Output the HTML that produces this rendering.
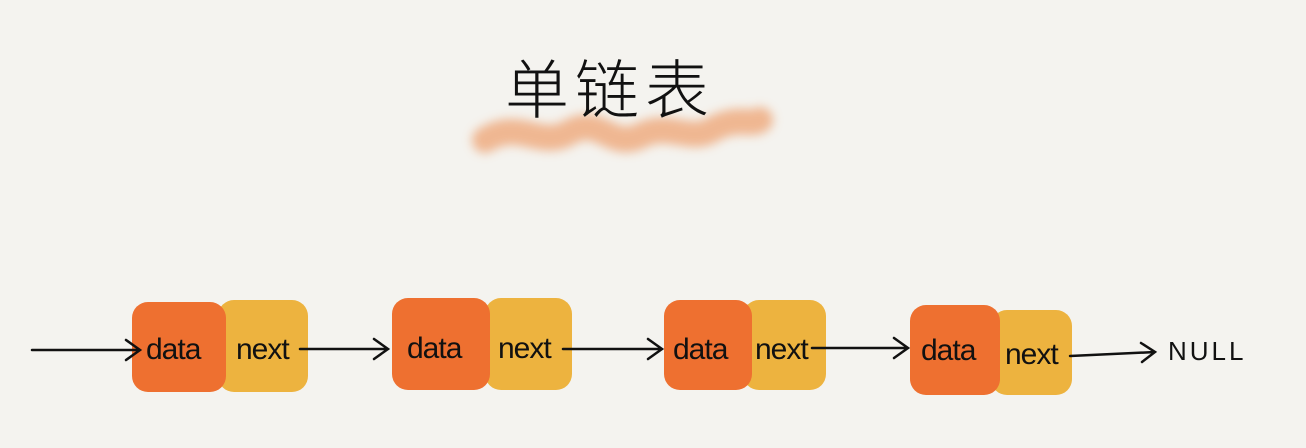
<!DOCTYPE html>
<html><head><meta charset="utf-8"><style>
body{margin:0;width:1306px;height:448px;background:#f4f3ef;overflow:hidden;position:relative;font-family:"Liberation Sans","Noto Sans CJK SC",sans-serif}
.b{position:absolute;border-radius:16px}
.o{background:#ee7030}.y{background:#edb33f}
.t{position:absolute;font-size:30px;color:#111;font-family:"Liberation Sans",sans-serif;letter-spacing:-1px}
</style></head><body>
<svg width="1306" height="448" style="position:absolute;left:0;top:0">
<defs><filter id="bl" x="-20%" y="-200%" width="140%" height="500%"><feGaussianBlur stdDeviation="5"/></filter></defs>
<path d="M485 140 C520 118,540 150,570 132 C600 115,610 150,640 136 C670 120,690 145,715 128 C740 116,750 126,760 120" stroke="#eea372" stroke-width="26" fill="none" opacity="0.75" filter="url(#bl)" stroke-linecap="round"/>
</svg>
<div class="b y" style="left:218px;top:300px;width:90px;height:92px"></div>
<div class="b o" style="left:132px;top:302px;width:94px;height:90px"></div>
<div class="b y" style="left:485px;top:298px;width:87px;height:92px"></div>
<div class="b o" style="left:392px;top:298px;width:98px;height:92px"></div>
<div class="b y" style="left:743px;top:300px;width:83px;height:90px"></div>
<div class="b o" style="left:664px;top:300px;width:88px;height:90px"></div>
<div class="b y" style="left:991px;top:310px;width:81px;height:85px"></div>
<div class="b o" style="left:910px;top:305px;width:90px;height:90px"></div>
<div class="t" style="left:146px;top:333px">data</div>
<div class="t" style="left:236px;top:333px">next</div>
<div class="t" style="left:407px;top:332px">data</div>
<div class="t" style="left:498px;top:332px">next</div>
<div class="t" style="left:673px;top:333px">data</div>
<div class="t" style="left:755px;top:333px">next</div>
<div class="t" style="left:921px;top:334px">data</div>
<div class="t" style="left:1005px;top:338px">next</div>
<div class="t" style="left:1168px;top:336px;font-size:26px;letter-spacing:3px">NULL</div>
<div style="position:absolute;left:505px;top:40px;font-size:64px;color:#111;font-family:'Noto Sans CJK SC',sans-serif;font-weight:300;letter-spacing:6px">单链表</div>
<svg width="1306" height="448" style="position:absolute;left:0;top:0" fill="none" stroke="#111" stroke-width="2.5" stroke-linecap="round">
<path d="M32 350 H140 M126 340 L140 350 L126 360"/>
<path d="M300 349 H388 M374 339 L388 349 L374 359"/>
<path d="M563 349 H662 M648 339 L662 349 L648 359"/>
<path d="M812 348 H908 M894 338 L908 348 L894 358"/>
<path d="M1070 356 L1155 352 M1141 343 L1155 352 L1142 362"/>
</svg>
</body></html>
